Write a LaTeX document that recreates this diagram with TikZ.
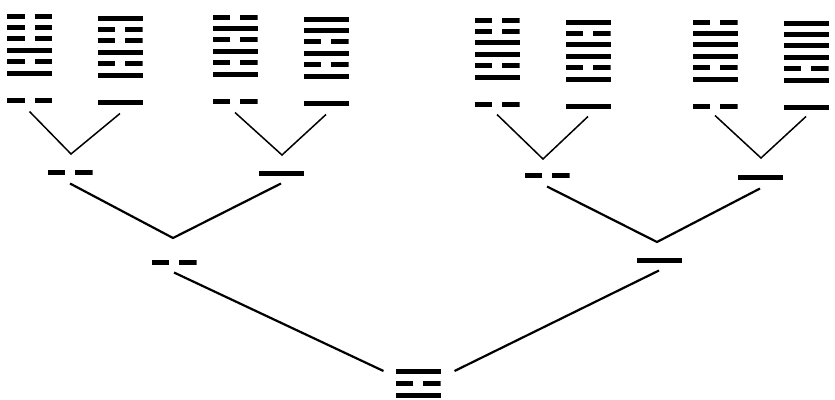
\documentclass[tikz,border=0pt]{standalone}
\usetikzlibrary{positioning}

\tikzset{
  yang/.style = {minimum width = 45pt, minimum height = 5pt, inner sep = 0pt, outer sep = 0pt, fill = black},
  yin/.style = {minimum width = 45pt, minimum height = 5pt, inner sep = 0pt, outer sep = 0pt,
    path picture = {
      \fill (path picture bounding box.south west) rectangle ([xshift = -5pt]path picture bounding box.north);
      \fill ([xshift = 5pt]path picture bounding box.south) rectangle (path picture bounding box.north east);}},
  twig/.style = {line width = 1.5pt},
  branch/.style = {line width = 2.2pt}
}

\begin{document}
\begin{tikzpicture} [x = 1pt, y = -1pt]
\useasboundingbox (0, 0) rectangle (835, 399);
% hexagrams
\foreach \n/\x/\y/\a/\b/\c in {1/29.5/100/yin/yin/yin, 2/120/102/yang/yin/yin, 3/235/101/yin/yang/yin, 4/326/103/yang/yang/yin,
    5/497/104/yin/yin/yang, 6/588/106/yang/yin/yang, 7/715/106/yin/yang/yang, 8/806/107/yang/yang/yang}
  \foreach \s [count = \i] in {\a, \b, \c, yang, yin, yang}
    \node[\s] (h\n-\i) at (\x, {\y - 95.4 + 11.4*\i}) {};
% lines of the tree
\node[yin] (l1) at (29.5, 100) {};
\node[yang] (l2) at (120, 102) {};
\node[yin] (l3) at (235, 101) {};
\node[yang] (l4) at (326, 103) {};
\node[yin] (l5) at (497, 104) {};
\node[yang] (l6) at (588, 106) {};
\node[yin] (l7) at (715, 106) {};
\node[yang] (l8) at (806, 107) {};
\node[yin] (m1) at (70, 172) {};
\node[yang] (m2) at (281, 173) {};
\node[yin] (m3) at (547, 175) {};
\node[yang] (m4) at (760, 177) {};
\node[yin] (n1) at (174, 262) {};
\node[yang] (n2) at (659, 260) {};
\node[yang] (r1) at (418, 371) {};
\node[yin, below = 7pt of r1] (r2) {};
\node[yang, below = 7pt of r2] (r3) {};
\coordinate (v1) at (71, 154);
\coordinate (v2) at (282, 155);
\coordinate (v3) at (543, 159);
\coordinate (v4) at (761, 158);
\coordinate (w1) at (173, 238);
\coordinate (w2) at (657, 242);
\draw[twig] ([yshift = -9pt]l1.south) -- (v1) -- ([yshift = -9pt]l2.south);
\draw[twig] ([yshift = -9pt]l3.south) -- (v2) -- ([yshift = -9pt]l4.south);
\draw[twig] ([yshift = -8pt]l5.south) -- (v3) -- ([yshift = -8pt]l6.south);
\draw[twig] ([yshift = -7pt]l7.south) -- (v4) -- ([yshift = -7pt]l8.south);
\draw[branch] ([yshift = -9pt]m1.south) -- (w1) -- ([yshift = -8pt]m2.south);
\draw[branch] ([yshift = -9pt]m3.south) -- (w2) -- ([yshift = -9pt]m4.south);
\draw[branch] ([yshift = -8pt]n1.south) -- ([xshift = -12pt]r1.west);
\draw[branch] ([yshift = -8pt]n2.south) -- ([xshift = 14pt]r1.east);
\end{tikzpicture}
\end{document}
